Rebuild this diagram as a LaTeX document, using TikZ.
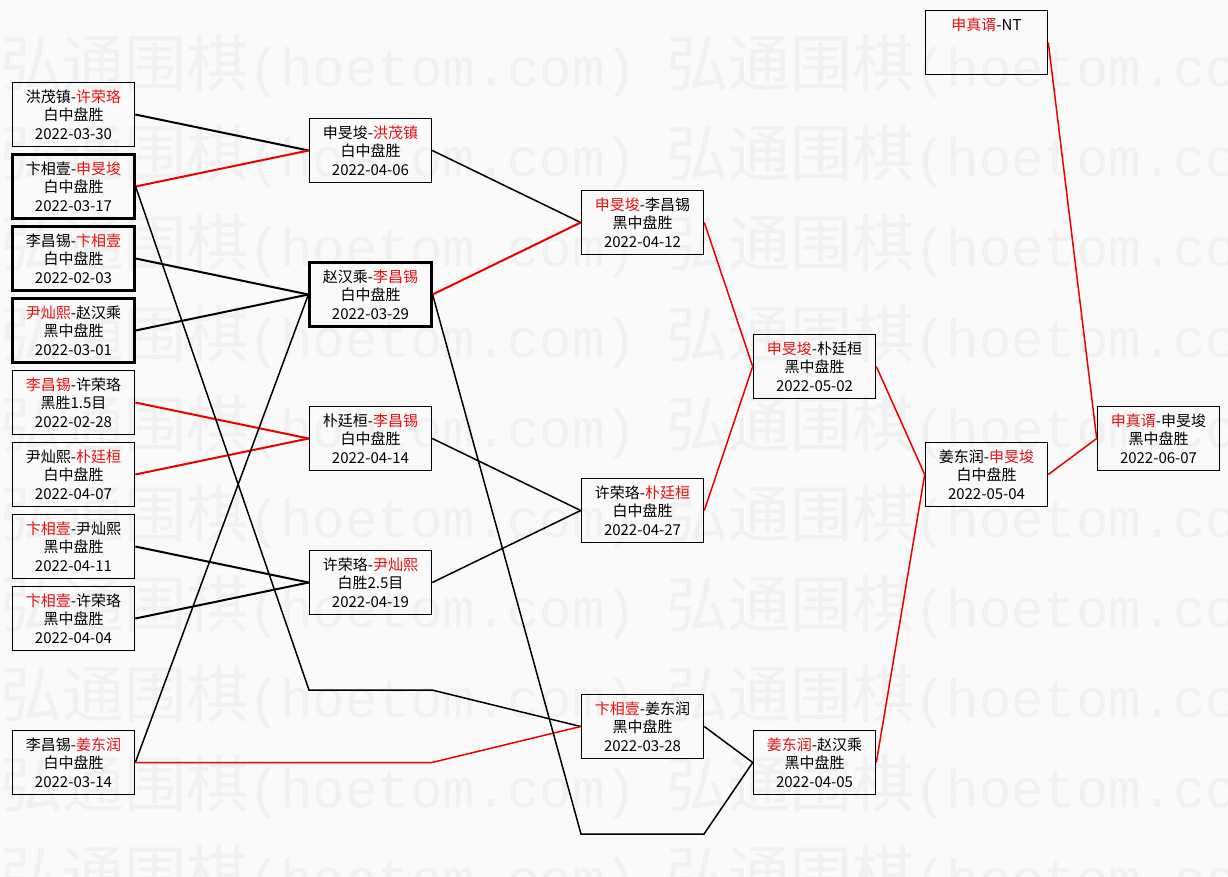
\documentclass[tikz,border=0pt]{standalone}
\usepackage{fontspec}
\newfontfamily\cjk{Noto Sans CJK SC}
\newfontfamily\wmmono{Liberation Mono}
\definecolor{wr}{RGB}{232,16,16}
\definecolor{lr}{RGB}{235,0,0}
\definecolor{bg}{RGB}{250,250,250}
\definecolor{wmc}{RGB}{241,241,241}
\newcommand{\rd}[1]{\textcolor{wr}{#1}}
\tikzset{
  game/.style={draw=black, line width=1.6pt, minimum width=122pt, minimum height=64pt,
    inner sep=0pt, align=center, font=\cjk\fontsize{15}{18.5}\selectfont, text=black},
  hl/.style={line width=2.2pt},
  wm/.style={anchor=base west, inner sep=0pt, text=wmc, font=\cjk\fontsize{62}{62}\selectfont},
  lose/.style={draw=black, line width=2pt, line join=miter},
  win/.style={draw=lr, line width=2pt, line join=miter},
  thin/.style={line width=1.5pt},
}
\begin{document}
\begin{tikzpicture}[x=1pt,y=-1pt]
\fill[bg] (0,0) rectangle (1228,877);
\useasboundingbox (0,0) rectangle (1228,877);
\begin{scope}
\clip (0,0) rectangle (1228,877);
\foreach \r in {0,...,9}{
  \foreach \c in {0,1}{
    \node[wm] (wm-\r-\c) at (\c*666, 65+\r*90+22) {弘通围棋{\wmmono\fontsize{54}{54}\selectfont(hoetom.com)}};
  }
}
\end{scope}

% round 1
\node[game] (A1) at (73.5,114.5) {洪茂镇-\rd{许荣珞}\\白中盘胜\\2022-03-30};
\node[game,hl] (A2) at (73.5,186.5) {卞相壹-\rd{申旻埈}\\白中盘胜\\2022-03-17};
\node[game,hl] (A3) at (73.5,258.5) {李昌锡-\rd{卞相壹}\\白中盘胜\\2022-02-03};
\node[game,hl] (A4) at (73.5,330.5) {\rd{尹灿熙}-赵汉乘\\黑中盘胜\\2022-03-01};
\node[game] (A5) at (73.5,402.5) {\rd{李昌锡}-许荣珞\\黑胜1.5目\\2022-02-28};
\node[game] (A6) at (73.5,474.5) {尹灿熙-\rd{朴廷桓}\\白中盘胜\\2022-04-07};
\node[game] (A7) at (73.5,546.5) {\rd{卞相壹}-尹灿熙\\黑中盘胜\\2022-04-11};
\node[game] (A8) at (73.5,618.5) {\rd{卞相壹}-许荣珞\\黑中盘胜\\2022-04-04};
\node[game] (A9) at (73.5,762.5) {李昌锡-\rd{姜东润}\\白中盘胜\\2022-03-14};

% round 2
\node[game] (B1) at (370.5,150.5) {申旻埈-\rd{洪茂镇}\\白中盘胜\\2022-04-06};
\node[game,hl] (B2) at (370.5,294.5) {赵汉乘-\rd{李昌锡}\\白中盘胜\\2022-03-29};
\node[game] (B3) at (370.5,438.5) {朴廷桓-\rd{李昌锡}\\白中盘胜\\2022-04-14};
\node[game] (B4) at (370.5,582.5) {许荣珞-\rd{尹灿熙}\\白胜2.5目\\2022-04-19};

% round 3
\node[game] (C1) at (642.5,222.5) {\rd{申旻埈}-李昌锡\\黑中盘胜\\2022-04-12};
\node[game] (C2) at (642.5,510.5) {许荣珞-\rd{朴廷桓}\\白中盘胜\\2022-04-27};
\node[game] (C3) at (642.5,726.5) {\rd{卞相壹}-姜东润\\黑中盘胜\\2022-03-28};

% round 4
\node[game] (D1) at (814.5,366.5) {\rd{申旻埈}-朴廷桓\\黑中盘胜\\2022-05-02};
\node[game] (D2) at (814.5,762.5) {\rd{姜东润}-赵汉乘\\黑中盘胜\\2022-04-05};

% round 5
\node[game] (E0) at (986.5,42.5) {\rd{申真谞}-NT\\\phantom{白中盘胜}\\\phantom{2022-06-07}};
\node[game] (E1) at (986.5,474.5) {姜东润-\rd{申旻埈}\\白中盘胜\\2022-05-04};

% final
\node[game] (F1) at (1158.5,438.5) {\rd{申真谞}-申旻埈\\黑中盘胜\\2022-06-07};

% bend points
\coordinate (p1) at (309,690);
\coordinate (p2) at (432,690);
\coordinate (p3) at (432,762.5);
\coordinate (p4) at (581,834);
\coordinate (p5) at (704,834);

% connectors
\draw[lose] (A1.east) -- (B1.west);
\draw[win] (A2.east) -- (B1.west);
\draw[lose] (A3.east) -- (B2.west);
\draw[lose] (A4.east) -- (B2.west);
\draw[win] (A5.east) -- (B3.west);
\draw[win] (A6.east) -- (B3.west);
\draw[lose] (A7.east) -- (B4.west);
\draw[lose] (A8.east) -- (B4.west);
\draw[lose,thin] (A2.east) -- (p1) -- (p2) -- (C3.west);
\draw[lose,thin] (A9.east) -- (B2.west);
\draw[win,thin] (A9.east) -- (p3) -- (C3.west);
\draw[lose,thin] (B1.east) -- (C1.west);
\draw[win] (B2.east) -- (C1.west);
\draw[lose,thin] (B2.east) -- (p4) -- (p5) -- (D2.west);
\draw[lose,thin] (B3.east) -- (C2.west);
\draw[lose,thin] (B4.east) -- (C2.west);
\draw[win,thin] (C1.east) -- (D1.west);
\draw[win,thin] (C2.east) -- (D1.west);
\draw[lose,thin] (C3.east) -- (D2.west);
\draw[win,thin] (D1.east) -- (E1.west);
\draw[win,thin] (D2.east) -- (E1.west);
\draw[win,thin] (E1.east) -- (F1.west);
\draw[win,thin] (E0.east) -- (F1.west);
\end{tikzpicture}
\end{document}
